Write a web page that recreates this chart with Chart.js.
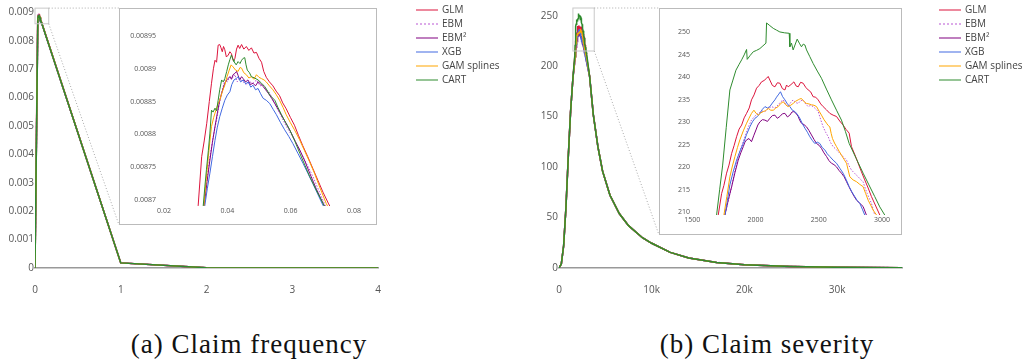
<!DOCTYPE html>
<html lang="en">
<head>
<meta charset="UTF-8">
<title>Claim frequency and severity</title>
<script src="https://cdn.jsdelivr.net/npm/chart.js"></script>
<style>
  body { margin: 0; width: 1022px; height: 360px; background: #fff; position: relative; overflow: hidden; }
  .box { position: absolute; }
  .inset { background: #fff; border: 1px solid #bbb; box-sizing: border-box; }
  .caption { position: absolute; top: 331px; font-family: "Liberation Serif", serif; font-size: 27px; line-height: 27px;
             letter-spacing: 1px; color: #111; white-space: nowrap; transform: translateX(-50%); }
</style>
</head>
<body>
<div class="box" style="left:0;top:0;width:510px;height:300px"><canvas id="freqMain"></canvas></div>
<div class="box inset" style="left:119px;top:8px;width:258px;height:217px"><canvas id="freqZoom"></canvas></div>
<div class="box" style="left:511px;top:0;width:511px;height:300px"><canvas id="sevMain"></canvas></div>
<div class="box inset" style="left:659px;top:8px;width:243px;height:227px"><canvas id="sevZoom"></canvas></div>
<div class="caption" style="left:249px">(a) Claim frequency</div>
<div class="caption" style="left:767px">(b) Claim severity</div>

<script>
// series
const seriesNames = ["GLM", "EBM", "EBM²", "XGB", "GAM splines", "CART"];
const seriesColors = ["#dc143c", "#ba55d3", "#800080", "#4169e1", "#ffa500", "#2e8b2e"];

// tick values
const freqXTicks = [0, 1, 2, 3, 4];
const freqYTicks = [0, 0.001, 0.002, 0.003, 0.004, 0.005, 0.006, 0.007, 0.008, 0.009];
const freqZoomXTicks = [0.02, 0.04, 0.06, 0.08];
const freqZoomYTicks = [0.0087, 0.00875, 0.0088, 0.00885, 0.0089, 0.00895];
const sevXTicks = [0, 10000, 20000, 30000];
const sevYTicks = [0, 50, 100, 150, 200, 250];
const sevZoomXTicks = [1500, 2000, 2500, 3000];
const sevZoomYTicks = [210, 215, 220, 225, 230, 235, 240, 245, 250];

// claim frequency: shared start/end, and the peak of every model
const freqHead = [[0, 0]];
const freqTail = [[1, 0.00018], [2, 0.00001], [3, 0.0000005], [4, 0]];
const freqGLM = [[0.0308,0.008692],[0.0319,0.008766],[0.0327,0.00879],[0.0335,0.008817],[0.0343,0.00885],[0.035,0.008878],
  [0.0356,0.0089],[0.0361,0.008913],[0.0366,0.00891],[0.0371,0.008936],[0.0376,0.008937],[0.038,0.008932],[0.0384,0.008926],
  [0.0388,0.008934],[0.0392,0.008929],[0.0397,0.008918],[0.0403,0.008921],[0.0408,0.008926],[0.0413,0.008923],[0.0419,0.008912],
  [0.0424,0.008916],[0.0429,0.00893],[0.0434,0.008936],[0.0439,0.008931],[0.0445,0.008937],[0.0452,0.00893],[0.046,0.008934],
  [0.0468,0.008928],[0.0476,0.008932],[0.0484,0.008924],[0.0492,0.008925],[0.05,0.008916],[0.0508,0.00891],[0.0515,0.008896],
  [0.0523,0.008887],[0.0533,0.00888],[0.0544,0.008874],[0.0554,0.008866],[0.0565,0.008859],[0.0575,0.008848],[0.0586,0.008839],
  [0.0599,0.008826],[0.0612,0.008814],[0.0625,0.008798],[0.0638,0.008783],[0.0654,0.008766],[0.067,0.008748],[0.0686,0.00873],
  [0.0702,0.008712],[0.072,0.008694]];
const freqEBM = [[0.0326,0.008692],[0.0335,0.00873],[0.0345,0.008766],[0.0355,0.008795],[0.0366,0.008822],[0.0374,0.008845],
  [0.0382,0.008863],[0.0392,0.008883],[0.04,0.00888],[0.0408,0.008888],[0.0416,0.008886],[0.0424,0.008891],[0.0431,0.00888],
  [0.0439,0.008885],[0.045,0.00888],[0.046,0.008876],[0.0471,0.00888],[0.0481,0.008878],[0.0492,0.008883],[0.0503,0.008874],
  [0.0513,0.008875],[0.0524,0.008868],[0.0534,0.008863],[0.0545,0.008852],[0.0555,0.008842],[0.0568,0.00883],[0.0581,0.008817],
  [0.0594,0.008806],[0.0607,0.008796],[0.0623,0.008781],[0.0639,0.008766],[0.0655,0.008751],[0.067,0.008736],[0.0707,0.008694]];
const freqEBM2 = [[0.0327,0.008692],[0.0336,0.008728],[0.0345,0.008761],[0.0353,0.008788],[0.0361,0.008812],[0.0369,0.008834],
  [0.0376,0.008852],[0.0384,0.008866],[0.0392,0.008878],[0.04,0.008884],[0.0408,0.008888],[0.0413,0.008884],[0.0418,0.008891],
  [0.0424,0.008893],[0.0429,0.008896],[0.0434,0.00889],[0.0439,0.008883],[0.0445,0.008888],[0.045,0.008885],[0.0458,0.00888],
  [0.0465,0.008883],[0.0473,0.008876],[0.0481,0.008878],[0.0489,0.008874],[0.0497,0.00888],[0.0505,0.008877],[0.0513,0.008873],
  [0.0521,0.008868],[0.0529,0.008863],[0.054,0.008855],[0.055,0.008847],[0.0563,0.008836],[0.0576,0.008825],[0.0589,0.008814],
  [0.0602,0.008802],[0.0615,0.008789],[0.0629,0.008776],[0.0645,0.008759],[0.066,0.008741],[0.068,0.008718],[0.0702,0.008695]];
const freqXGB = [[0.0329,0.008692],[0.0337,0.008718],[0.0345,0.008741],[0.0353,0.008766],[0.0361,0.008791],[0.0368,0.00881],
  [0.0376,0.008827],[0.0384,0.00884],[0.0392,0.008852],[0.04,0.00886],[0.0408,0.008865],[0.0414,0.008876],[0.0421,0.008883],
  [0.0428,0.008885],[0.0434,0.008888],[0.0442,0.00888],[0.045,0.008883],[0.0458,0.008877],[0.0466,0.00888],[0.0474,0.008872],
  [0.0481,0.008875],[0.0489,0.008868],[0.0497,0.00887],[0.0505,0.008862],[0.0513,0.008855],[0.0523,0.008852],[0.0534,0.008847],
  [0.0545,0.008838],[0.0555,0.00883],[0.0568,0.008818],[0.0581,0.008807],[0.0594,0.008797],[0.0607,0.008786],[0.0623,0.008771],
  [0.0639,0.008756],[0.0655,0.00874],[0.067,0.008725],[0.07,0.008694]];
const freqGAM = [[0.0326,0.008692],[0.0333,0.00873],[0.034,0.008766],[0.0345,0.00879],[0.035,0.008812],[0.0357,0.008826],
  [0.0364,0.008837],[0.037,0.008846],[0.0376,0.008852],[0.0384,0.008865],[0.0392,0.008875],[0.0399,0.008888],[0.0406,0.008898],
  [0.0412,0.008906],[0.0418,0.008903],[0.0426,0.008898],[0.0434,0.008896],[0.044,0.008902],[0.0445,0.008901],[0.0452,0.008894],
  [0.046,0.008891],[0.0468,0.008886],[0.0476,0.008888],[0.0484,0.008884],[0.0492,0.008891],[0.05,0.008887],[0.0508,0.008885],
  [0.0516,0.008883],[0.0523,0.00888],[0.0533,0.008874],[0.0544,0.008868],[0.0554,0.008861],[0.0565,0.008852],[0.0576,0.008841],
  [0.0586,0.00883],[0.0599,0.008818],[0.0612,0.008807],[0.0628,0.008792],[0.0643,0.008776],[0.0659,0.008759],[0.0675,0.008741],
  [0.0693,0.008718],[0.0712,0.008695]];
const freqCART = [[0.0324,0.008692],[0.0329,0.00872],[0.0334,0.008746],[0.034,0.008775],[0.0345,0.008802],[0.035,0.008837],
  [0.0355,0.008834],[0.0361,0.00884],[0.0366,0.008836],[0.0371,0.008852],[0.0376,0.008868],[0.0382,0.008883],[0.0387,0.00888],
  [0.0392,0.008885],[0.0398,0.008896],[0.0403,0.008906],[0.0408,0.008914],[0.0413,0.008921],[0.0418,0.008914],[0.0421,0.008911],
  [0.0428,0.008906],[0.0434,0.008911],[0.044,0.008908],[0.0445,0.008913],[0.045,0.008916],[0.0455,0.008917],[0.0459,0.008906],
  [0.0463,0.008898],[0.047,0.008894],[0.0476,0.008888],[0.0486,0.008886],[0.0497,0.008883],[0.0508,0.008878],[0.0518,0.008873],
  [0.0526,0.008867],[0.0534,0.00886],[0.0542,0.008856],[0.055,0.008852],[0.056,0.008841],[0.0571,0.00883],[0.0584,0.008818],
  [0.0597,0.008807],[0.0613,0.00879],[0.0629,0.008771],[0.0645,0.008753],[0.066,0.008736],[0.068,0.008716],[0.0702,0.008695]];

// claim severity: shared rise and tail, and the peak of every model
const sevHead = [[0,0],[250,4],[500,22],[750,60],[1000,110],[1250,155],[1500,188]];
const sevTail = [[3300,190],[3700,152],[4200,120],[4700,96],[5500,72],[6500,54],[7500,42],[9000,30],[10000,24.5],
  [12000,15.5],[14000,10],[17000,5.5],[20000,3.2],[25000,1.5],[30000,0.7],[37000,0.3]];
const sevGLM = [[1705,209.4],[1732,214.2],[1750,216],[1771,218.7],[1790,220.5],[1811,223.1],[1830,224.8],[1850,226.8],
  [1870,228.5],[1890,229.4],[1910,231],[1929,232],[1950,233.2],[1968,235],[1988,236.1],[2008,237.6],[2028,238.2],[2047,239],
  [2067,239.3],[2087,239.8],[2100,240.2],[2113,239.4],[2133,238.2],[2153,237.9],[2172,238.8],[2192,238.7],[2212,237.5],
  [2232,237.2],[2245,238.3],[2258,237.9],[2280,238.4],[2303,239],[2320,238.1],[2337,237.9],[2356,238.9],[2376,238.7],
  [2396,237.8],[2416,237.2],[2435,236.8],[2455,235.7],[2475,235.6],[2495,235],[2515,234.1],[2534,233.5],[2560,232.8],
  [2587,232],[2613,231.6],[2640,231.3],[2665,230.3],[2692,229.4],[2716,228.4],[2740,227.6],[2758,224.6],[2785,222.8],
  [2811,220.9],[2837,219],[2863,217.2],[2890,215.4],[2916,213.5],[2950,211.4],[2982,209.4]];
const sevEBM = [[1758,209.4],[1785,212.6],[1811,215.7],[1837,219.3],[1863,222.4],[1890,224.8],[1916,226.8],[1942,228.9],
  [1968,230.5],[1995,231.4],[2021,232],[2048,232.5],[2074,232.4],[2100,233.1],[2126,233.5],[2153,233.2],[2179,233.9],
  [2200,234.6],[2219,235],[2238,234],[2258,233.5],[2278,234.4],[2297,235],[2317,234.4],[2337,234.2],[2356,234.8],[2376,235],
  [2396,234.1],[2416,233.5],[2435,233.8],[2455,233.5],[2475,233],[2495,232.4],[2515,230.6],[2534,229],[2554,227.8],
  [2574,226.8],[2593,225.5],[2613,224.6],[2640,223.9],[2666,223.1],[2692,222.4],[2719,221.6],[2738,220.4],[2758,219.4],
  [2785,218.6],[2811,217.9],[2830,217.3],[2850,216.8],[2866,215.4],[2882,214.2],[2900,213],[2916,212],[2942,209.4]];
const sevEBM2 = [[1758,209.4],[1785,212.8],[1811,215.7],[1837,218.8],[1863,221.6],[1883,223.2],[1903,224.6],[1916,225.6],
  [1929,226.1],[1948,226.4],[1968,225.7],[1985,227],[2003,228.3],[2018,229.4],[2034,230.1],[2054,230.6],[2074,230.5],
  [2094,230.2],[2113,230.9],[2133,231.5],[2153,231.6],[2172,230.9],[2192,231.3],[2212,231.9],[2232,232],[2252,231.2],
  [2271,231.6],[2288,232.3],[2303,232.4],[2320,232],[2337,231.3],[2350,230.4],[2363,229.8],[2383,229.5],[2403,229],
  [2422,228.2],[2442,227.2],[2462,226.2],[2482,225.3],[2502,224.9],[2521,224.2],[2541,223.2],[2561,222.4],[2580,221.5],
  [2600,220.9],[2620,220.6],[2640,220.1],[2660,219.3],[2679,218.7],[2700,217.9],[2719,216.8],[2738,215.7],[2758,214.6],
  [2778,213.6],[2798,212.7],[2824,212],[2850,211.3],[2876,209.4]];
const sevXGB = [[1758,209.4],[1777,212.6],[1797,216.1],[1823,219],[1850,221.6],[1877,223.6],[1903,225.3],[1929,227.3],
  [1955,229],[1975,230.1],[1995,230.9],[2015,231.3],[2034,232],[2054,232.9],[2074,233.5],[2094,233.2],[2113,233.5],
  [2133,234.3],[2153,235],[2166,235.6],[2179,236.1],[2197,236.8],[2214,235.7],[2232,235],[2252,234.1],[2271,233.5],
  [2291,232.7],[2311,232.4],[2330,231.8],[2350,230.9],[2370,229.7],[2390,228.7],[2410,227.8],[2429,226.8],[2448,226],
  [2468,225.3],[2488,225.6],[2508,225.3],[2527,224.4],[2547,223.9],[2567,223],[2587,222.4],[2613,221.6],[2640,220.9],
  [2666,219.8],[2692,218.7],[2716,217.3],[2740,215.7],[2762,214.5],[2784,213.5],[2804,212.6],[2824,212],[2844,210.7],
  [2863,209.4]];
const sevGAM = [[1750,209.4],[1773,213.5],[1797,217.9],[1817,220.3],[1837,222.4],[1857,224.4],[1876,226.1],[1903,228.1],
  [1929,229.8],[1948,230.9],[1968,232],[1987,232.7],[2004,232],[2021,231.6],[2041,232.1],[2061,232.4],[2080,232.6],
  [2100,233.1],[2120,232.7],[2140,232.7],[2160,233.2],[2179,233.5],[2199,234.2],[2219,234.6],[2238,233.9],[2258,233.5],
  [2278,233.8],[2297,234.2],[2317,234.7],[2337,235],[2350,235.2],[2363,235.3],[2383,234.6],[2403,234.2],[2422,234.1],
  [2442,233.9],[2462,233.8],[2482,233.5],[2502,232.5],[2521,231.6],[2541,230.6],[2561,229.8],[2574,229.3],[2587,229],
  [2598,227.5],[2608,226.4],[2624,225.4],[2640,224.6],[2660,223.6],[2679,222.7],[2699,221.8],[2719,220.9],[2732,219.4],
  [2745,217.9],[2771,217.2],[2798,216.8],[2824,216.2],[2850,215.7],[2870,214.2],[2890,212.7],[2910,211.6],[2929,210.5],
  [2956,209.4]];
const sevCART = [[1692,209.4],[1716,215],[1740,220.5],[1768,228.8],[1797,237.2],[1821,239.4],[1845,241.6],[1868,242.8],
  [1890,243.9],[1910,245],[1929,246.2],[1934,244],[1958,244.9],[1982,245.7],[2008,246],[2034,246.4],[2058,247],[2082,247.6],
  [2087,252.1],[2113,251.5],[2140,250.9],[2166,250.5],[2192,250.1],[2230,249.9],[2266,249.8],[2271,246.8],[2284,247.6],
  [2297,246.1],[2329,248.5],[2346,247.6],[2363,246.8],[2377,247.4],[2390,247.2],[2403,246.1],[2429,244.6],[2455,243.1],
  [2488,241.4],[2521,239.8],[2560,237.4],[2600,235],[2640,232.7],[2679,230.5],[2710,228],[2740,225.3],[2795,222],
  [2850,218.7],[2896,216.1],[2942,213.5],[2982,211.2],[3021,209.4]];

const freqPeaks = [freqGLM, freqEBM, freqEBM2, freqXGB, freqGAM, freqCART];
const sevPeaks = [sevGLM, sevEBM, sevEBM2, sevXGB, sevGAM, sevCART];

// zoomed windows marked on the main plots (data units)
const freqWindow = { x0: 0, x1: 0.16, y0: 0.0086, y1: 0.00915 };
const sevWindow = { x0: 1500, x1: 3800, y0: 215, y1: 257.6 };

Chart.defaults.font.family = "'Open Sans', sans-serif";
Chart.defaults.color = "#555";

function toPoints(parts) {
  return [].concat(...parts).map(p => ({ x: p[0], y: p[1] }));
}

function makeDatasets(head, peaks, tail, width, dash) {
  return seriesNames.map((name, i) => ({
    label: name,
    data: toPoints([head, peaks[i], tail]),
    borderColor: seriesColors[i],
    borderWidth: width,
    borderDash: name === "EBM" ? dash : [],
    pointRadius: 0,
    tension: 0,
    order: seriesNames.length - 1 - i
  }));
}

// fixed axis sizes so plot areas land where the figure has them
function fixHeight(h) {
  return s => { s.height = h; s.paddingLeft = 0; s.paddingRight = 0; s.paddingTop = 0; s.paddingBottom = 0; };
}
function fixWidth(w) {
  return s => { s.width = w; s.paddingLeft = 0; s.paddingRight = 0; s.paddingTop = 0; s.paddingBottom = 0; };
}
function useTicks(values) {
  return s => { s.ticks = values.map(v => ({ value: v })); };
}

// zoom box, connector lines and legend
const decor = {
  id: "decor",
  afterDatasetsDraw(chart, args, opts) {
    const { ctx } = chart;
    const x = chart.scales.x, y = chart.scales.y;
    if (opts.zoom) {
      const z = opts.zoom;
      const l = x.getPixelForValue(z.x0), r = x.getPixelForValue(z.x1);
      const t = y.getPixelForValue(z.y1), b = y.getPixelForValue(z.y0);
      ctx.save();
      ctx.strokeStyle = "#c8c8c8";
      ctx.lineWidth = 1;
      ctx.strokeRect(l, t, r - l, b - t);
      ctx.strokeStyle = "#aaa";
      ctx.setLineDash([1, 2]);
      ctx.beginPath();
      ctx.moveTo(r, t); ctx.lineTo(opts.inset.left, opts.inset.top);
      ctx.moveTo(r, b); ctx.lineTo(opts.inset.left, opts.inset.bottom);
      ctx.stroke();
      ctx.restore();
    }
    if (opts.legend) {
      const lg = opts.legend;
      ctx.save();
      ctx.font = "10px 'Open Sans', sans-serif";
      ctx.textBaseline = "middle";
      seriesNames.forEach((name, i) => {
        const yy = lg.y + i * 14;
        ctx.globalAlpha = 0.5;
        ctx.strokeStyle = seriesColors[i];
        ctx.lineWidth = 2;
        ctx.setLineDash(name === "EBM" ? [2, 2] : []);
        ctx.beginPath();
        ctx.moveTo(lg.x, yy);
        ctx.lineTo(lg.x + 22, yy);
        ctx.stroke();
        ctx.globalAlpha = 1;
        ctx.fillStyle = "#444";
        ctx.fillText(name, lg.x + 26, yy);
      });
      ctx.restore();
    }
  }
};

function mainOptions(o) {
  return {
    responsive: true,
    maintainAspectRatio: false,
    animation: false,
    layout: { padding: o.padding },
    plugins: { legend: { display: false }, tooltip: { enabled: false }, decor: o.decor },
    scales: {
      x: {
        type: "linear", min: o.xMin, max: o.xMax,
        grid: { display: false, drawTicks: false },
        border: o.xBorder,
        ticks: { padding: o.xPad, autoSkip: false, maxRotation: 0, font: { size: o.font }, callback: o.xFormat },
        afterBuildTicks: useTicks(o.xTicks),
        afterFit: fixHeight(o.xHeight)
      },
      y: {
        min: o.yMin, max: o.yMax,
        grid: { display: false, drawTicks: false },
        border: { display: false },
        ticks: { padding: o.yPad, autoSkip: false, font: { size: o.font }, callback: o.yFormat },
        afterBuildTicks: useTicks(o.yTicks),
        afterFit: fixWidth(o.yWidth)
      }
    }
  };
}

const trimNum = v => String(+v.toFixed(6));

new Chart(document.getElementById("freqMain"), {
  type: "line",
  data: { datasets: makeDatasets(freqHead, freqPeaks, freqTail, 1.5, [2, 2]) },
  options: mainOptions({
    padding: { left: 0, right: 132, top: 7, bottom: 0 },
    decor: { zoom: freqWindow, inset: { left: 119, top: 8, bottom: 225 }, legend: { x: 416, y: 10 } },
    xMin: 0, xMax: 4, xTicks: freqXTicks, xPad: 16, xHeight: 32, xFormat: trimNum,
    xBorder: { display: true, color: "#999", width: 1.5 },
    yMin: 0, yMax: 0.00919, yTicks: freqYTicks, yPad: 1, yWidth: 35, yFormat: trimNum, font: 10
  }),
  plugins: [decor]
});

new Chart(document.getElementById("freqZoom"), {
  type: "line",
  data: { datasets: makeDatasets(freqHead, freqPeaks, freqTail, 1, [1.5, 1.5]) },
  options: mainOptions({
    padding: { left: 0, right: 5, top: 14, bottom: 0 },
    xMin: 0.01842, xMax: 0.08537, xTicks: freqZoomXTicks, xPad: 1, xHeight: 18, xFormat: trimNum,
    xBorder: { display: false },
    yMin: 0.00869085, yMax: 0.00896982, yTicks: freqZoomYTicks, yPad: 3, yWidth: 39, yFormat: trimNum, font: 7
  })
});

new Chart(document.getElementById("sevMain"), {
  type: "line",
  data: { datasets: makeDatasets(sevHead, sevPeaks, sevTail, 1.5, [2, 2]) },
  options: mainOptions({
    padding: { left: 0, right: 120, top: 7, bottom: 0 },
    decor: { zoom: sevWindow, inset: { left: 148, top: 8, bottom: 235 }, legend: { x: 428, y: 10 } },
    xMin: 0, xMax: 37000, xTicks: sevXTicks, xPad: 16, xHeight: 32,
    xFormat: v => v === 0 ? "0" : (v / 1000) + "k",
    xBorder: { display: true, color: "#999", width: 1.5 },
    yMin: 0, yMax: 258.6, yTicks: sevYTicks, yPad: 1, yWidth: 48, yFormat: trimNum, font: 10
  }),
  plugins: [decor]
});

new Chart(document.getElementById("sevZoom"), {
  type: "line",
  data: { datasets: makeDatasets(sevHead, sevPeaks, sevTail, 1, [1.5, 1.5]) },
  options: mainOptions({
    padding: { left: 0, right: 4, top: 9, bottom: 0 },
    xMin: 1489.7, xMax: 3118, xTicks: sevZoomXTicks, xPad: 1, xHeight: 19, xFormat: trimNum,
    xBorder: { display: false },
    yMin: 209.4, yMax: 253.2, yTicks: sevZoomYTicks, yPad: 1, yWidth: 31, yFormat: trimNum, font: 7
  })
});
</script>
</body>
</html>
